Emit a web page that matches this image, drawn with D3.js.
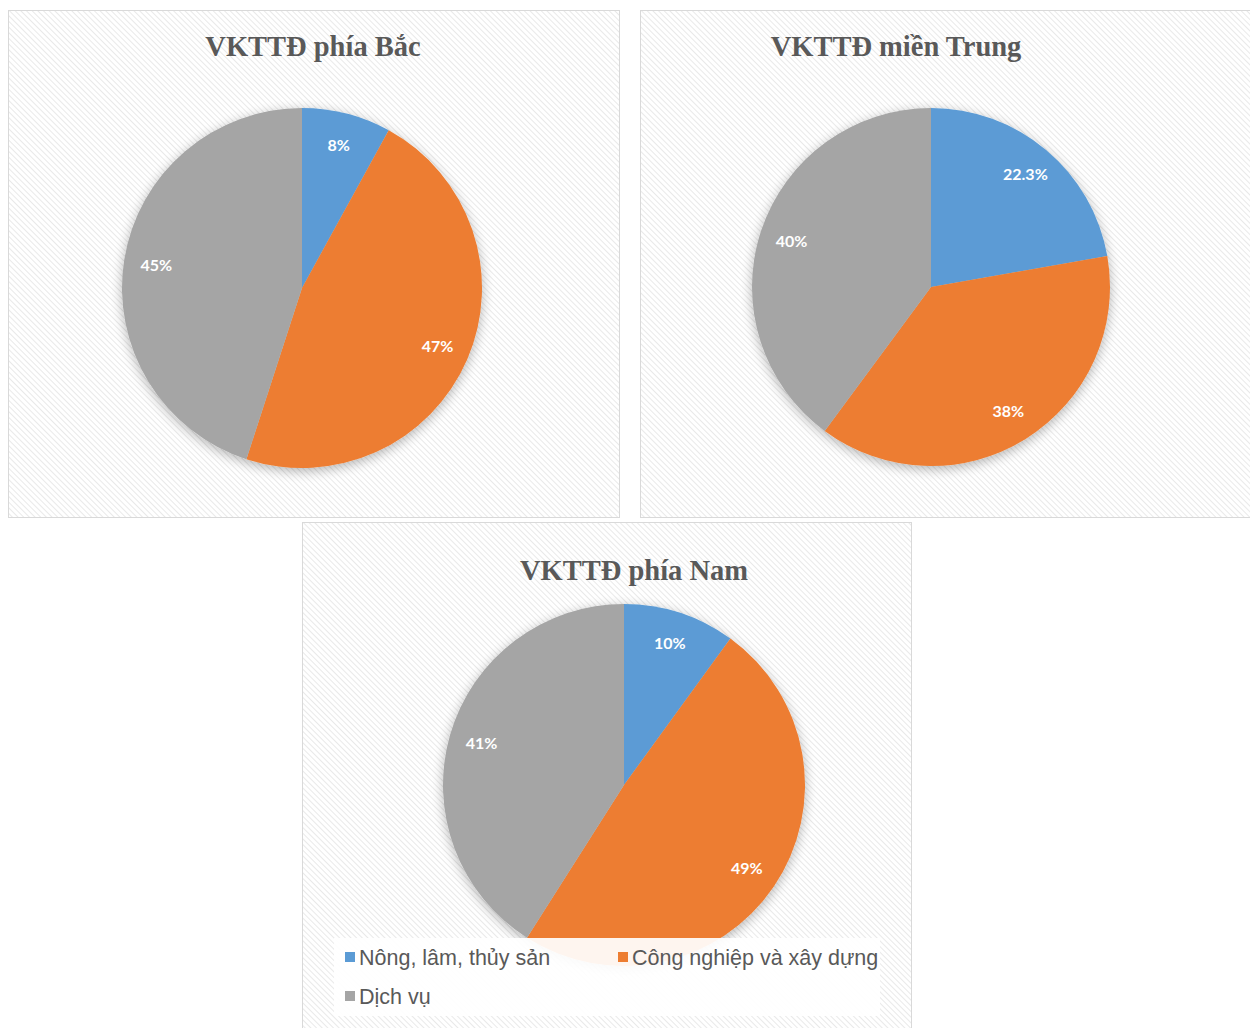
<!DOCTYPE html>
<html>
<head>
<meta charset="utf-8">
<script src="https://cdn.jsdelivr.net/npm/d3@7"></script>
<style>
  body { margin: 0; background: #ffffff; }
  .title { font-family: "Liberation Serif", "Times New Roman", serif; font-weight: bold; fill: #595959; }
  .pctlabel { font-family: Lato, "Open Sans", sans-serif; font-weight: bold; fill: #ffffff; }
  .legendtext { font-family: "Liberation Sans", Arial, sans-serif; fill: #595959; }
</style>
</head>
<body>
<div id="chart"></div>
<script>
// data
const categories = ["Nông, lâm, thủy sản", "Công nghiệp và xây dựng", "Dịch vụ"];
const regionNames = ["VKTTĐ phía Bắc", "VKTTĐ miền Trung", "VKTTĐ phía Nam"];
const bacValues = [8, 47, 45];
const trungValues = [22.3, 38, 40];
const namValues = [10, 49, 41];
const colors = ["#5B9BD5", "#ED7D31", "#A5A5A5"];

// panel layout
const panels = [
  {name: regionNames[0], values: bacValues,   x: 8,   y: 10,  w: 612, h: 508, cx: 294, cy: 278, r: 180, tx: 305, ty: 36},
  {name: regionNames[1], values: trungValues, x: 640, y: 10,  w: 612, h: 508, cx: 291, cy: 277, r: 179, tx: 256, ty: 36},
  {name: regionNames[2], values: namValues,   x: 302, y: 522, w: 610, h: 510, cx: 322, cy: 263, r: 181, tx: 332, ty: 48}
];

const width = 1250, height = 1028;

let svg = d3.select("#chart")
  .append("svg")
  .attr("width", width)
  .attr("height", height);

let defs = svg.append("defs");

let pattern = defs.append("pattern")
  .attr("id", "stripes")
  .attr("patternUnits", "userSpaceOnUse")
  .attr("width", 4)
  .attr("height", 4)
  .attr("patternTransform", "rotate(-45)");
pattern.append("rect").attr("width", 4).attr("height", 4).attr("fill", "#ffffff");
pattern.append("line")
  .attr("x1", 0).attr("y1", 0).attr("x2", 0).attr("y2", 4)
  .attr("stroke", "#e9e9e9")
  .attr("stroke-width", 2);

let shadow = defs.append("filter")
  .attr("id", "pieShadow")
  .attr("x", "-20%").attr("y", "-20%")
  .attr("width", "140%").attr("height", "140%");
shadow.append("feGaussianBlur").attr("in", "SourceAlpha").attr("stdDeviation", 6).attr("result", "blur");
shadow.append("feOffset").attr("in", "blur").attr("dx", 0).attr("dy", 3).attr("result", "off");
shadow.append("feComponentTransfer").attr("in", "off").attr("result", "shade")
  .append("feFuncA").attr("type", "linear").attr("slope", 0.3);
let merge = shadow.append("feMerge");
merge.append("feMergeNode").attr("in", "shade");
merge.append("feMergeNode").attr("in", "SourceGraphic");

let pie = d3.pie().sort(null).value(function(d){ return d; });
let color = d3.scaleOrdinal().domain(d3.range(categories.length)).range(colors);

panels.forEach(function(p){
  let g = svg.append("g").attr("transform", "translate(" + p.x + "," + p.y + ")");

  g.append("rect")
    .attr("x", 0.5).attr("y", 0.5)
    .attr("width", p.w - 1).attr("height", p.h - 1)
    .attr("fill", "url(#stripes)")
    .attr("stroke", "#d9d9d9")
    .attr("stroke-width", 1);

  g.append("text")
    .attr("class", "title")
    .attr("x", p.tx)
    .attr("y", p.ty)
    .attr("text-anchor", "middle")
    .attr("dy", "0.35em")
    .style("font-size", "28.5px")
    .text(p.name);

  let arc = d3.arc().innerRadius(0).outerRadius(p.r);
  let labelArc = d3.arc().innerRadius(p.r * 0.82).outerRadius(p.r * 0.82);

  let pg = g.append("g").attr("transform", "translate(" + p.cx + "," + p.cy + ")");
  let arcs = pie(p.values);

  pg.append("g")
    .attr("filter", "url(#pieShadow)")
    .selectAll("path")
    .data(arcs)
  .enter().append("path")
    .attr("d", arc)
    .attr("fill", function(d, i){ return color(i); });

  pg.selectAll(".pctlabel")
    .data(arcs)
  .enter().append("text")
    .attr("class", "pctlabel")
    .attr("transform", function(d){ return "translate(" + labelArc.centroid(d) + ")"; })
    .attr("text-anchor", "middle")
    .attr("dy", "0.35em")
    .style("font-size", "16px")
    .text(function(d){ return d.data + "%"; });
});

// legend inside the last panel
let lp = panels[2];
let legend = svg.append("g").attr("transform", "translate(" + lp.x + "," + lp.y + ")");
legend.append("rect")
  .attr("x", 32).attr("y", 416)
  .attr("width", 546).attr("height", 78)
  .attr("fill", "#ffffff")
  .attr("opacity", 0.92);

let legendPos = [[43, 443], [316, 443], [43, 482]];
let items = legend.selectAll(".legenditem")
  .data(categories)
.enter().append("g")
  .attr("class", "legenditem")
  .attr("transform", function(d, i){ return "translate(" + legendPos[i][0] + "," + legendPos[i][1] + ")"; });

items.append("rect")
  .attr("x", 0).attr("y", -13)
  .attr("width", 10).attr("height", 10)
  .attr("fill", function(d, i){ return color(i); });

items.append("text")
  .attr("class", "legendtext")
  .attr("x", 14)
  .attr("y", 0)
  .style("font-size", "21.5px")
  .text(function(d){ return d; });
</script>
</body>
</html>
